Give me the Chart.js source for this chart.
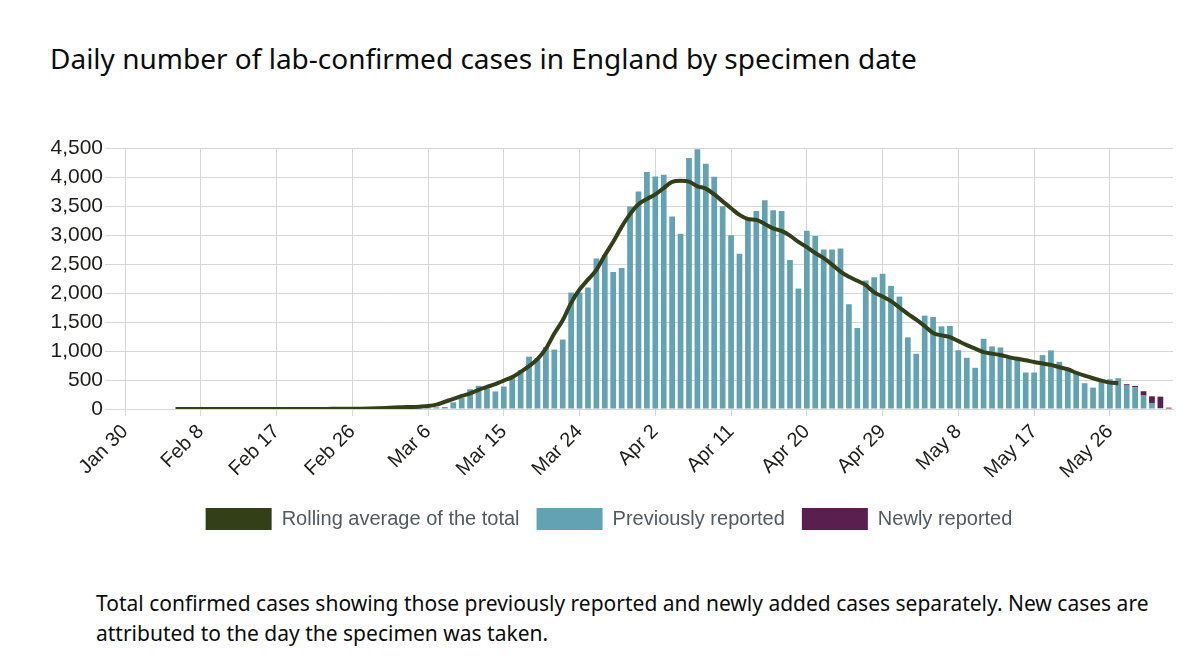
<!DOCTYPE html>
<html>
<head>
<meta charset="utf-8">
<script src="https://cdn.jsdelivr.net/npm/chart.js@4.4.0/dist/chart.umd.min.js"></script>
<style>
  body{margin:0;background:#fff;width:1200px;height:672px;overflow:hidden;position:relative;font-family:'Noto Sans',sans-serif;color:#0b0c0c}
  h1{position:absolute;left:50px;top:38px;margin:0;font-weight:400;font-size:28px;line-height:40px}
  #wrap{position:absolute;left:0;top:118px;width:1200px;height:422px}
  p{position:absolute;left:96px;top:588px;margin:0;font-size:21px;line-height:30px;width:1090px}
</style>
</head>
<body>
<h1>Daily number of lab-confirmed cases in England by specimen date</h1>
<div id="wrap"><canvas id="c-cases"></canvas></div>
<p>Total confirmed cases showing those previously reported and newly added cases separately. New cases are attributed to the day the specimen was taken.</p>
<script>
// x axis counts days from Jan 30; a labelled tick every 9 days
const tickLabels=['Jan 30','Feb 8','Feb 17','Feb 26','Mar 6','Mar 15','Mar 24','Apr 2','Apr 11','Apr 20','Apr 29','May 8','May 17','May 26'];
const tickStep=9;

// previously reported, one value per day from Feb 5 (day 6) to Jun 2 (day 124)
const prevStart=6;
const previouslyReported=[
  0,1,0,1,1,0,1,2,1,0,2,1,1,2,1,3,2,4,3,5,6,
  8,10,12,15,18,22,
  15,20,18,22,30,35,
  115,190,340,400,350,303,387,531,670,903,
  880,1067,1024,1197,2008,2008,2094,2596,2654,2360,
  2429,3490,3750,4085,4010,4039,3317,3023,4327,4477,
  4229,4004,3496,2994,2677,3271,3415,3600,3427,3415,
  2567,2077,3075,2983,2752,2752,2769,1806,1396,2215,
  2273,2331,2123,1938,1235,952,1610,1587,1425,1431,
  1012,883,710,1211,1079,1061,883,865,629,629,
  929,1010,813,692,640,444,369,490,513,531,
  404,375,231,104,17,0
];

// newly reported, days 119..124
const newStart=119;
const newlyReported=[23,23,75,115,196,23];

// rolling average of the total, days 6..118
const avgStart=6;
const rollingAverage=[
  0,0,0,0,0,0,0,0,1,1,1,1,1,1,1,1,2,2,2,3,3,
  3,5,8,12,18,25,30,35,40,50,
  75,125,173,225,270,330,380,430,490,550,
  640,740,860,1040,1300,1530,1830,2060,2230,2400,
  2650,2885,3140,3360,3530,3620,3700,3810,3915,3935,
  3920,3840,3800,3700,3580,3461,3346,3277,3260,3190,
  3115,3070,2990,2880,2790,2690,2600,2490,2370,2280,
  2210,2135,2010,1940,1860,1750,1640,1540,1430,1310,
  1270,1240,1170,1100,1040,981,955,930,895,865,
  840,810,785,760,720,685,625,575,530,490,
  455,444
];

const DARK='#323f17',TEAL='#63a2b2',PURPLE='#5a1e4f',GRID='#d6d6d6';
const toPts=(arr,start)=>arr.map((v,i)=>({x:start+i,y:v}));

Chart.defaults.font.family="'Liberation Sans', Arial, sans-serif";
Chart.defaults.color='#1d1d1b';

new Chart(document.getElementById('c-cases'),{
  type:'bar',
  data:{datasets:[
    {type:'line',label:'Rolling average of the total',data:toPts(rollingAverage,avgStart),
     borderColor:DARK,backgroundColor:DARK,borderWidth:4,pointRadius:0,tension:.4,
     cubicInterpolationMode:'monotone',stack:'avg',order:0},
    {label:'Previously reported',data:toPts(previouslyReported,prevStart),backgroundColor:TEAL,
     stack:'cases',order:1,barPercentage:.68,categoryPercentage:1},
    {label:'Newly reported',data:toPts(newlyReported,newStart),backgroundColor:PURPLE,
     stack:'cases',order:2,barPercentage:.68,categoryPercentage:1},
  ]},
  options:{
    responsive:true,maintainAspectRatio:false,animation:false,
    layout:{padding:{top:30,right:27,left:45,bottom:0}},
    plugins:{
      legend:{position:'bottom',labels:{boxWidth:66,boxHeight:22,padding:17,color:'#505a5f',font:{size:20},
        // flat boxes, no outline from the line width
        generateLabels:ch=>Chart.defaults.plugins.legend.labels.generateLabels(ch).map(l=>({...l,lineWidth:0}))}},
      tooltip:{enabled:false}
    },
    scales:{
      x:{type:'linear',min:0,max:124.5,stacked:true,offset:false,
        afterBuildTicks:s=>{s.ticks=tickLabels.map((_,i)=>({value:i*tickStep}));},
        afterFit:s=>{s.height=82;},
        ticks:{autoSkip:false,maxRotation:45,minRotation:45,padding:4,font:{size:20},
          callback:v=>tickLabels[Math.round(v/tickStep)]},
        grid:{color:GRID,tickLength:7,offset:false},border:{color:GRID}},
      y:{stacked:true,min:0,max:4500,
        afterFit:s=>{s.width=80;},
        ticks:{stepSize:500,padding:2,font:{size:21},callback:v=>v.toLocaleString('en-GB')},
        grid:{color:GRID,tickLength:20},border:{color:GRID}}
    }
  }
});
</script>
</body>
</html>
